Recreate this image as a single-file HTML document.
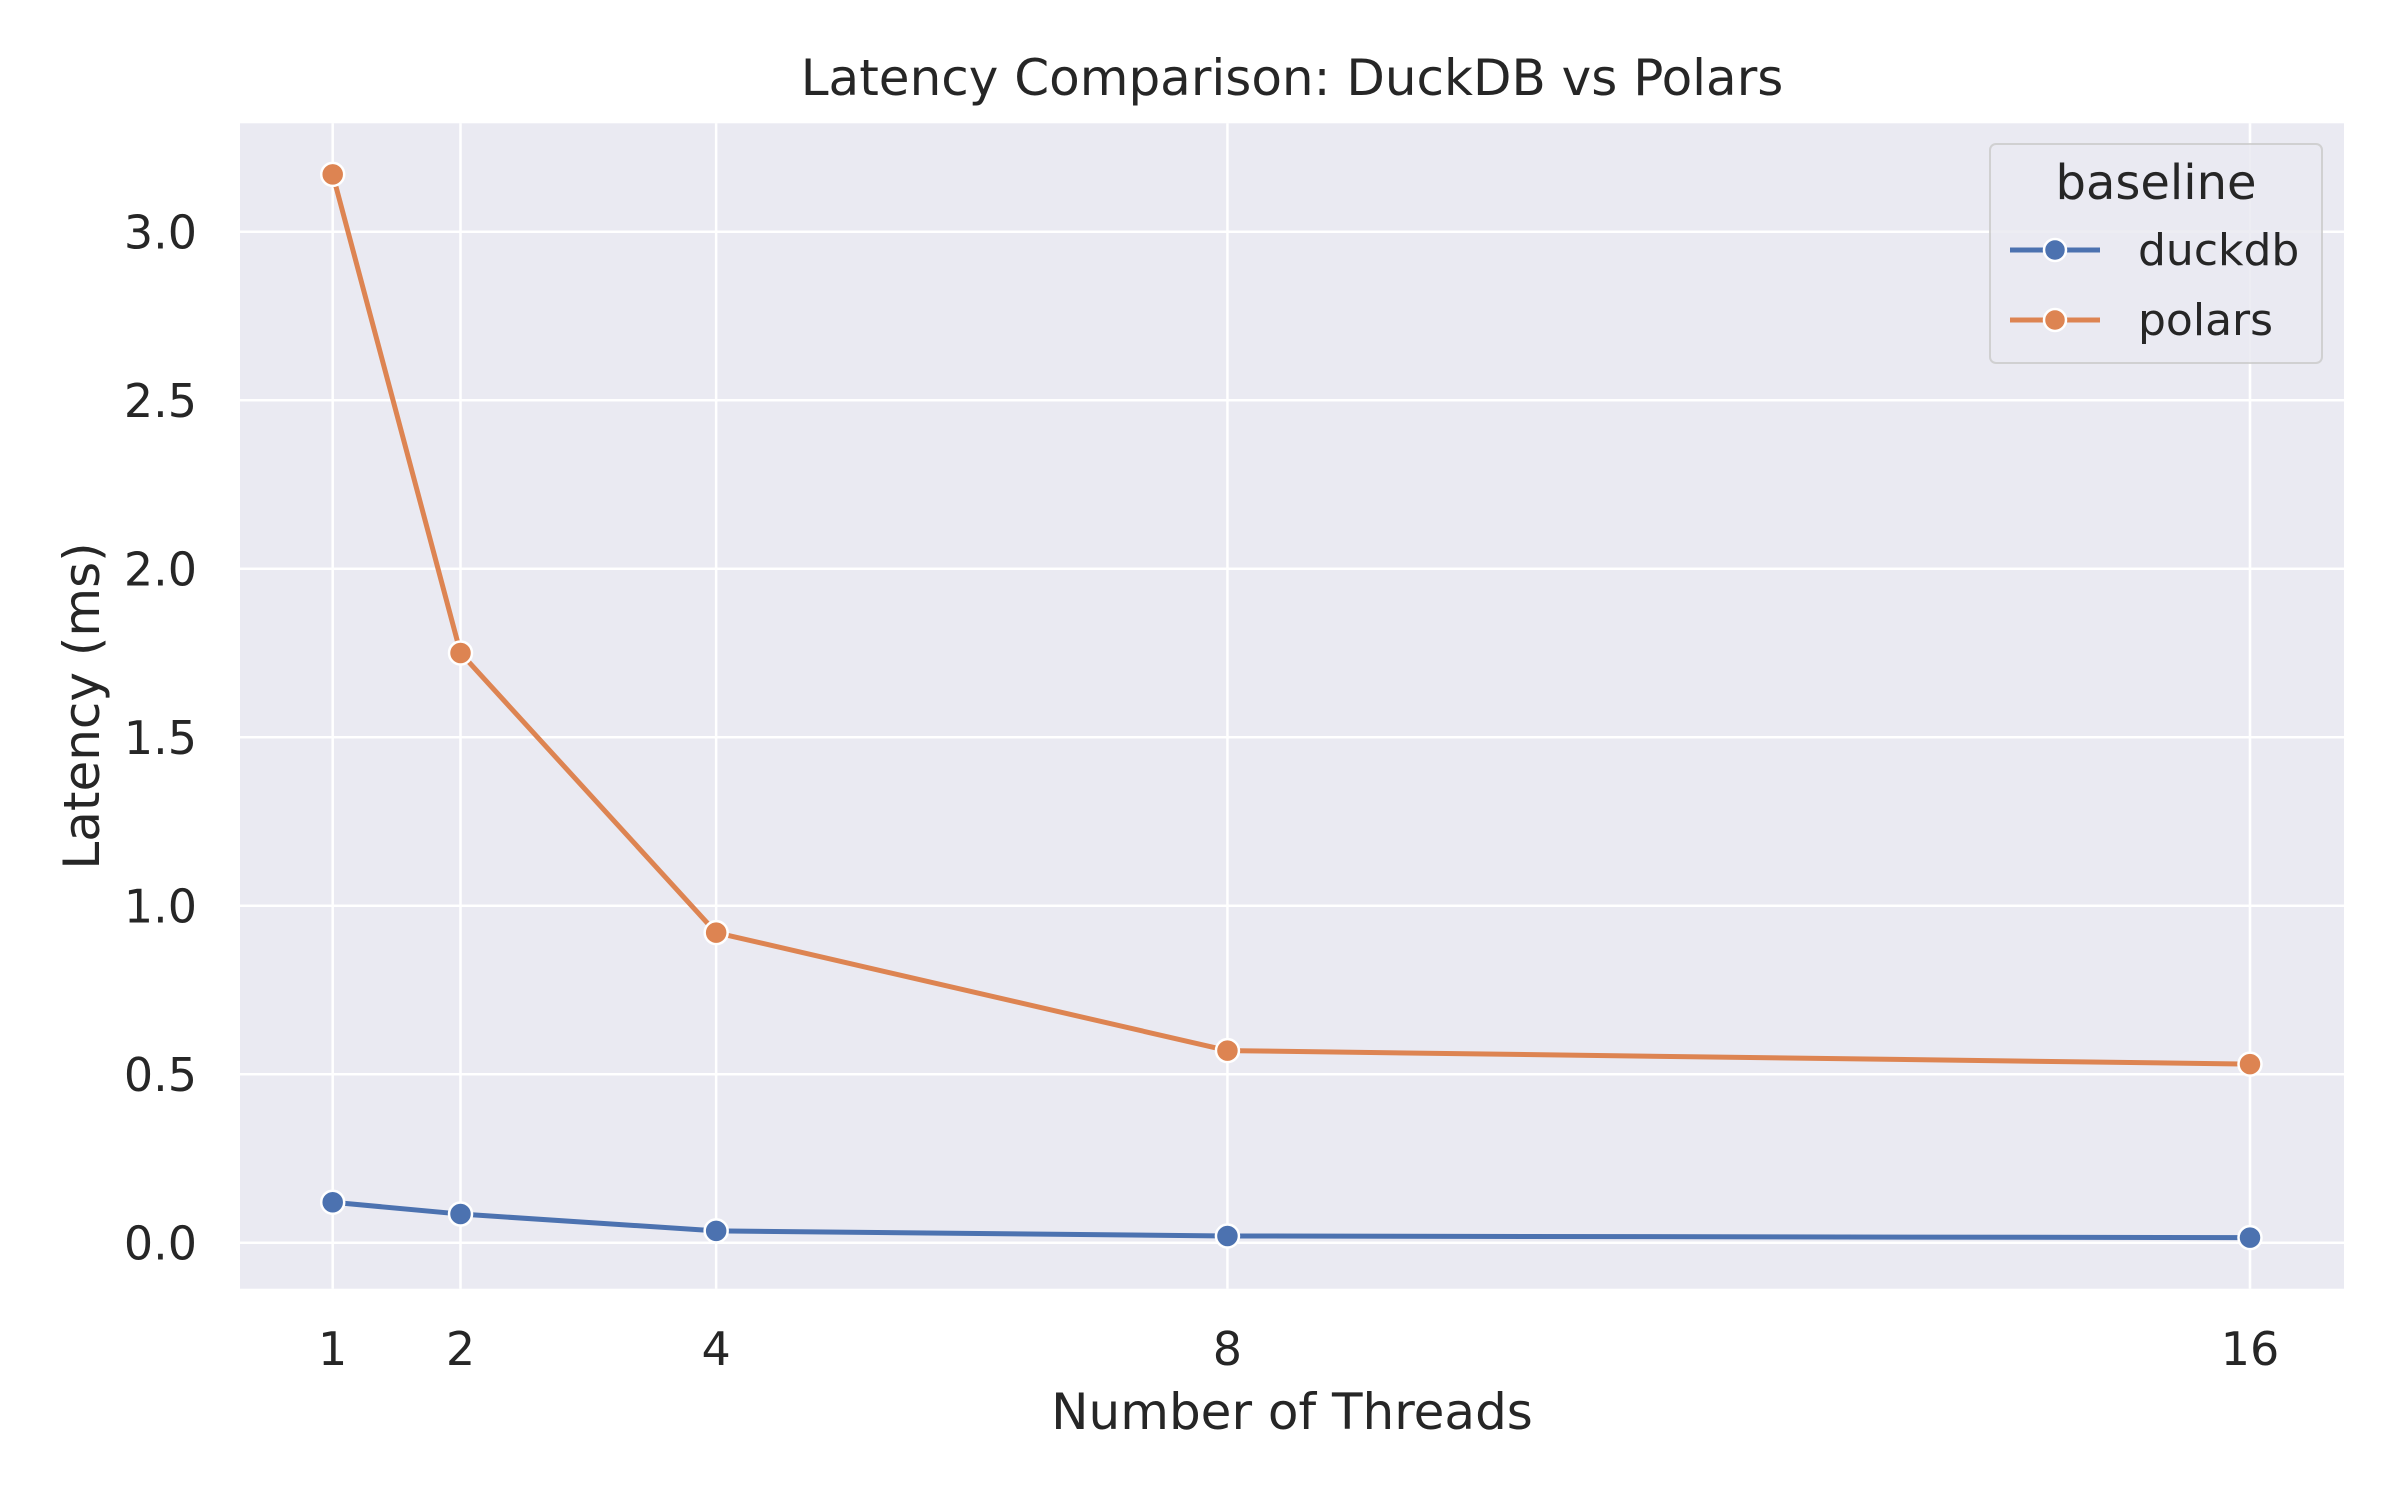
<!DOCTYPE html>
<html><head><meta charset="utf-8"><style>
body{margin:0;background:#fff}
svg text{font-family:"DejaVu Sans","Liberation Sans",sans-serif;fill:#262626}
</style></head><body>
<svg id="chart" width="2400" height="1500" xmlns="http://www.w3.org/2000/svg">
<rect x="240" y="123.3" width="2104" height="1165.4" fill="#eaeaf2"/>
<g id="grid"></g>
<g id="xticks"></g>
<g id="yticks"></g>
<g id="series"></g>
<text x="1292" y="95" font-size="50" text-anchor="middle">Latency Comparison: DuckDB vs Polars</text>
<text x="1292" y="1429" font-size="50" text-anchor="middle">Number of Threads</text>
<text transform="translate(99,706) rotate(-90)" font-size="50" text-anchor="middle">Latency (ms)</text>
<g>
<rect x="1990" y="144" width="332" height="219" rx="6" fill="#eaeaf2" stroke="#cccccc" stroke-width="2" opacity="0.85"/>
<text x="2156" y="199" font-size="48" text-anchor="middle">baseline</text>
<g>
<line x1="2010" y1="250" x2="2100" y2="250" stroke="#4c72b0" stroke-width="5"/>
<circle cx="2055" cy="250" r="11" fill="#4c72b0" stroke="#fff" stroke-width="2.5"/>
<text x="2138" y="265" font-size="44">duckdb</text></g>
<g>
<line x1="2010" y1="320" x2="2100" y2="320" stroke="#dd8452" stroke-width="5"/>
<circle cx="2055" cy="320" r="11" fill="#dd8452" stroke="#fff" stroke-width="2.5"/>
<text x="2138" y="335" font-size="44">polars</text></g>
</g>
</svg>
<script>
const threads=[1,2,4,8,16];
const duckdb=[0.12,0.085,0.035,0.02,0.015];
const polars=[3.17,1.75,0.92,0.57,0.53];
const yTicks=[0,0.5,1,1.5,2,2.5,3];
const yTickLabels=["0.0","0.5","1.0","1.5","2.0","2.5","3.0"];
const NS="http://www.w3.org/2000/svg";
function xs(v){return 332.7+(v-1)*127.82;}
function ys(v){return 1242.7-v*337;}
function mk(t,a,p){const e=document.createElementNS(NS,t);for(const k in a)e.setAttribute(k,a[k]);p.appendChild(e);return e;}
const grid=document.getElementById('grid'),xt=document.getElementById('xticks'),yt=document.getElementById('yticks'),se=document.getElementById('series');
threads.forEach(t=>{
 const l=mk('line',{x1:xs(t),x2:xs(t),y1:123.3,y2:1288.7,stroke:'#fff','stroke-width':2.5},grid);
 
 
 const tx=mk('text',{x:xs(t),y:1365,'font-size':46,'text-anchor':'middle'},xt);tx.textContent=t;
 
 
});
yTicks.forEach((v,i)=>{
 const l=mk('line',{x1:240,x2:2344,y1:ys(v),y2:ys(v),stroke:'#fff','stroke-width':2.5},grid);
 
 
 const tx=mk('text',{x:197,y:ys(v)+17,'font-size':46,'text-anchor':'end'},yt);tx.textContent=yTickLabels[i];
 
 
});
[[duckdb,'#4c72b0','duckdb'],[polars,'#dd8452','polars']].forEach(([d,c,n])=>{
 const p=mk('polyline',{points:d.map((v,i)=>xs(threads[i])+','+ys(v)).join(' '),fill:'none',stroke:c,'stroke-width':5,'stroke-linejoin':'round'},se);
 
 
 d.forEach((v,i)=>{
  const m=mk('circle',{cx:xs(threads[i]),cy:ys(v),r:11.5,fill:c,stroke:'#fff','stroke-width':2.5},se);
  
  
 });
});
</script>
</body></html>
